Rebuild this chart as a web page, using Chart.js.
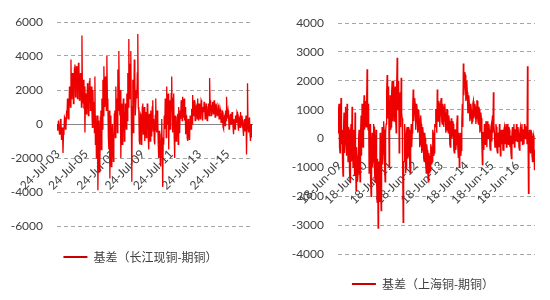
<!DOCTYPE html>
<html>
<head>
<meta charset="utf-8">
<script src="https://cdn.jsdelivr.net/npm/chart.js@4/dist/chart.umd.min.js"></script>
<style>
  html, body { margin: 0; padding: 0; background: #fff; }
  #wrap { position: relative; width: 550px; height: 300px; }
  canvas { position: absolute; top: 0; }
  #c1 { left: 0; }
  #c2 { left: 275px; }
</style>
</head>
<body>
<div id="wrap">
  <canvas id="c1" width="275" height="300"></canvas>
  <canvas id="c2" width="275" height="300"></canvas>
</div>
<script>
// ---------- data ----------
const leftSeriesName = '基差（长江现铜-期铜）';
const rightSeriesName = '基差（上海铜-期铜）';

const leftTickLabels = ['24-Jul-03', '24-Jul-05', '24-Jul-07', '24-Jul-09', '24-Jul-11', '24-Jul-13', '24-Jul-15'];
const rightTickLabels = ['18-Jun-09', '18-Jun-10', '18-Jun-11', '18-Jun-12', '18-Jun-13', '18-Jun-14', '18-Jun-15', '18-Jun-16'];

const leftPeriod = ['1-Jul-03', '12-Apr-17'];
const rightPeriod = ['26-May-09', '28-Feb-17'];

const leftYRange = [-6000, 6000, 2000];
const rightYRange = [-4000, 4000, 1000];

const leftValues = [
  0,-400, -300,200, 200,-600, -500,300, 100,-900, -800,-200, -1700,-600, -400,400, 300,-300, -200,600,
  500,1500, 1200,300, 800,2200, 2000,1000, 3800,1500, 1800,3000, 2600,1200, 2200,3300, 3500,1600, 2400,3400,
  3200,1500, 2600,3600, 3400,1400, 1800,3000, 2800,1000, 5200,2000, 1200,2600, 900,2200, -500,1800, 1500,600,
  800,2400, 2200,500, 1200,2500, 2700,800, 1600,2200, 800,-200, 2000,600, 1300,-500, 2800,-1200, 500,-2000,
  -1500,500, -3900,-1000, 200,-2800, -2200,400, 800,-1500, 1500,-300, 2600,500, 3400,1200, 1000,2800, 2500,800,
  4000,1500, 1200,-800, -1500,800, -3200,-500, 500,-2500, -2000,0, 0,-2200, -1000,600, 800,-800, 2200,500,
  1500,-500, 3200,800, 4300,1500, 500,2000, -2000,300, 1200,-1200, 0,1500, 800,-1000, -600,1200, 1000,-300,
  1800,200, 3000,1000, 5000,1500, 2000,3500, 4300,500, -3400,1000, 2600,-500, 1200,3800, 3000,500, 500,2000,
  1500,3000, 5300,1000, 800,-1000, -1200,600, 500,-1200, -800,1000, 1200,-600, 0,1000, -1000,400, 700,-800,
  -300,1200, 1000,-900, -1500,600, 200,-1000, 800,-700, -600,1000, 1400,-400, 300,-1000, -1200,500, 1500,-300,
  -500,800, 400,-1200, -2000,-400, -800,-2200, -2500,-600, 300,-1500, -3700,-800, -1200,500, -300,1500, 1000,-800,
  2200,0, 800,1800, -1500,600, 1400,-300, 600,1800, 2800,500, -500,1500, 1800,-800, -2000,500, 300,-1000,
  -800,400, 600,-1200, 1000,-500, -400,800, 300,1400, 1200,200, 1600,400, 900,1500, 200,1000, -600,500,
  400,-800, -1000,300, 0,-900, -700,500, 300,-300, 900,0, 1700,500, 600,1400, 1200,200, 400,1100,
  1000,300, 1500,600, 200,1200, 900,300, 600,1400, 1300,400, 200,1000, 700,1300, 1100,300, 500,1200,
  900,200, 300,1000, 1200,500, 2700,1200, 1400,500, 600,1100, 1300,600, 800,1400, 1100,400, 900,1200,
  1200,500, 600,1100, 1000,300, 400,900, 700,100, 200,800, 600,-200, -300,500, 400,-100, 800,200,
  1600,300, 300,800, 500,-300, -200,500, 600,0, 100,700, 400,-200, -600,300, 300,-300, 500,100,
  200,700, 600,-100, -400,400, 300,-200, 700,100, 0,500, 500,-300, -700,200, 300,-400, 100,500,
  -1800,300, 2400,-200, -500,300, 400,-600, -1000,0, -300,-800
];

const rightValues = [
  200,1000, 1200,-300, -500,800, 1400,-200, 300,-800, -1300,400, 900,-500, -200,1100, 500,-600, 1200,0,
  -800,400, 300,-1200, -1500,200, 500,-800, 1100,-300, -1000,300, 200,-1300, 900,-500, -1800,-300, -600,-1500,
  -1200,0, 300,-900, -1500,200, 800,-600, 1200,-200, -300,900, 1500,300, 700,1300, 400,1100, 2400,600,
  300,1200, -1200,400, 500,-1400, -2000,-300, 200,-1000, -800,500, 400,-1200, -1500,-200, 300,-1500, -2200,-700,
  -3100,-800, -1000,-2200, 200,-1300, -2500,-600, 400,-900, -500,600, 300,-1000, -1500,200, 500,1600, 2200,700,
  800,1800, -1000,500, 1500,300, 400,1600, 2000,600, 1200,2000, 600,1400, 1800,700, 200,1800, 2800,1000,
  1000,2000, -500,1200, 1600,400, 2100,900, 700,-1000, -2900,-800, -800,500, 200,-1200, -1000,300, 400,-700,
  -600,400, 300,-900, -1200,-200, 500,-300, 200,1100, 1700,600, 900,1400, 1200,300, 600,1200, 1000,200,
  300,1000, 700,-300, -200,800, 500,-500, -400,400, 200,-700, -800,200, 0,-900, -1200,-200, -400,-1100,
  -1500,-500, -600,-1200, -1100,-200, -300,-900, -800,300, 200,-600, -500,500, 400,1000, 1000,200, 1700,600,
  600,1300, 1200,400, 800,1300, 1400,600, 500,1200, 1100,400, 700,1200, 900,200, 300,1000, 1000,300,
  200,800, 600,-200, -300,500, 700,0, 100,600, 500,-400, -500,300, 300,-400, -200,500, 800,-300,
  -650,200, -1000,-200, 200,-600, -400,600, 1200,400, 2600,1500, 1800,2300, 2200,1300, 1400,2000, 1600,900,
  900,1500, 1200,600, 700,1200, 1000,500, 600,1200, 1300,700, 800,1200, 1100,500, 700,1300, 1300,600,
  500,1100, 1000,200, 300,900, 700,-200, -900,200, 200,-400, 500,-100, -200,600, 400,-300, 600,0,
  0,500, 300,-300, -400,400, 500,-100, 800,200, 1600,500, 200,-300, -300,500, 400,-400, -500,200,
  100,-300, 500,0, -600,300, 200,-200, 300,-400, -400,300, 400,-200, 0,500, -300,200, 500,-100,
  -200,400, 300,-300, 100,-500, -700,200, 400,-200, 200,500, -300,300, 300,-100, 500,0, -100,400,
  200,-300, -400,300, 400,-100, 100,500, -200,300, 300,-200, 500,100, 0,400, 400,-200, 2500,300,
  -1900,0, 300,-400, -500,300, 200,-600, -800,0, 100,-500, -1100,-400
];

// ---------- helpers ----------
const MONTHS = {Jan:0,Feb:1,Mar:2,Apr:3,May:4,Jun:5,Jul:6,Aug:7,Sep:8,Oct:9,Nov:10,Dec:11};
function toYear(s) {
  const [d, m, y] = s.split('-');
  return 2000 + Number(y) + (MONTHS[m] + (Number(d) - 1) / 30.5) / 12;
}
function toPoints(values, period) {
  const a = toYear(period[0]), b = toYear(period[1]);
  const step = (b - a) / (values.length - 1);
  return values.map((v, i) => ({x: a + i * step, y: v}));
}

const RED = '#EE0000';
const LEGEND_RED = '#C80000';
const TXT = '#404040';

function makeChart(id, cfg) {
  const tickYears = cfg.tickLabels.map(toYear);
  const legendShift = {
    id: 'legendShift',
    afterLayout(chart) {
      if (chart.legend) { chart.legend.left += cfg.legendShift; chart.legend.right += cfg.legendShift; }
    }
  };
  return new Chart(document.getElementById(id), {
    type: 'line',
    plugins: [legendShift],
    data: {
      datasets: [{
        label: cfg.name,
        data: toPoints(cfg.values, cfg.period),
        borderColor: RED,
        backgroundColor: LEGEND_RED,
        borderWidth: 1.3,
        pointRadius: 0,
        tension: 0
      }]
    },
    options: {
      responsive: false,
      animation: false,
      layout: { padding: cfg.padding },
      plugins: {
        legend: {
          position: 'bottom',
          labels: {
            boxWidth: 24,
            boxHeight: 2,
            padding: cfg.legendPad,
            color: TXT,
            font: { family: '"Noto Sans CJK SC"', size: 12 },
            generateLabels: chart => {
              const items = Chart.defaults.plugins.legend.labels.generateLabels(chart);
              items.forEach(it => { it.lineWidth = 0; it.strokeStyle = LEGEND_RED; it.fillStyle = LEGEND_RED; });
              return items;
            }
          }
        },
        tooltip: { enabled: false }
      },
      scales: {
        x: {
          type: 'linear',
          position: { y: 0 },
          min: toYear(cfg.period[0]),
          max: toYear(cfg.period[1]),
          z: 1,
          grid: { display: false },
          border: { display: true, color: '#868686', width: 1 },
          afterBuildTicks: ax => { ax.ticks = tickYears.map(v => ({ value: v })); },
          ticks: {
            autoSkip: false,
            minRotation: 45,
            maxRotation: 45,
            padding: cfg.xPad,
            color: TXT,
            font: { family: 'Lato', size: 12 },
            callback: (v, i) => cfg.tickLabels[i]
          }
        },
        y: {
          min: cfg.yRange[0],
          max: cfg.yRange[1],
          afterFit: s => { s.width = cfg.yWidth; },
          ticks: {
            stepSize: cfg.yRange[2],
            padding: 14,
            color: TXT,
            font: { family: 'Lato', size: 12 },
            callback: v => String(v)
          },
          grid: { color: '#A6A6A6', drawTicks: false, lineWidth: 1 },
          border: { display: false, dash: [4, 3] }
        }
      }
    }
  });
}

makeChart('c1', {
  name: leftSeriesName, values: leftValues, period: leftPeriod,
  tickLabels: leftTickLabels, yRange: leftYRange,
  padding: { left: 5, right: 23, top: 22, bottom: 27 },
  legendPad: 25, yWidth: 52, legendShift: 12, xPad: 15
});
makeChart('c2', {
  name: rightSeriesName, values: rightValues, period: rightPeriod,
  tickLabels: rightTickLabels, yRange: rightYRange,
  padding: { left: 12, right: 15, top: 23, bottom: 0 },
  legendPad: 24, yWidth: 51, legendShift: 12, xPad: 12
});
</script>
</body>
</html>
